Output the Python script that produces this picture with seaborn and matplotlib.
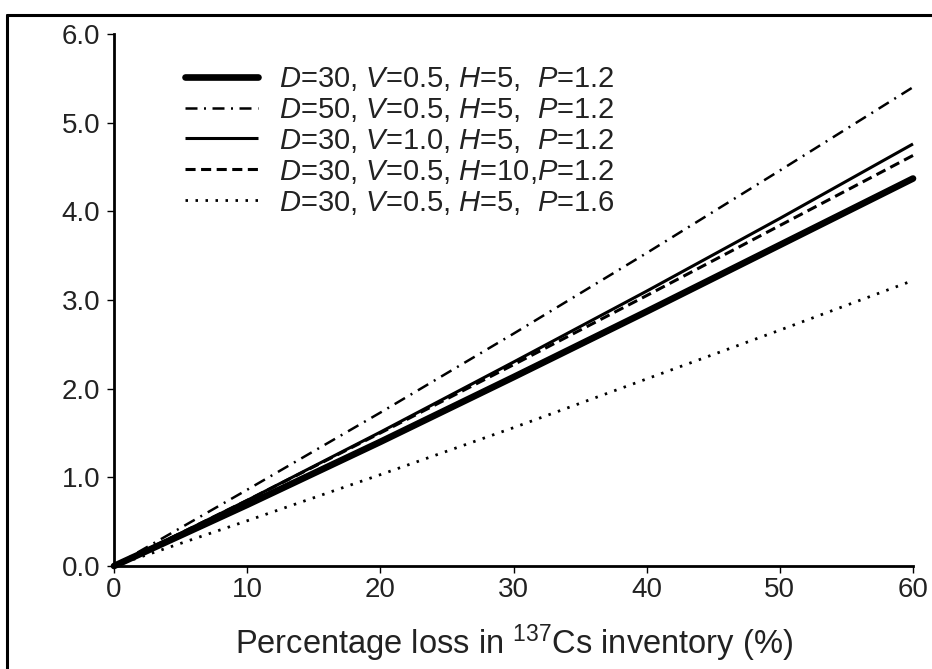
import numpy as np
import pandas as pd
import matplotlib
matplotlib.use("Agg")
import matplotlib.pyplot as plt
from matplotlib.lines import Line2D
import seaborn as sns

# Percentage loss in Cs-137 inventory (%)
loss_pct = [0, 10, 20, 30, 40, 50, 60]

# Estimated erosion rate for each parameter set
d30_v05_h5_p12 = [0.0, 0.69, 1.40, 2.13, 2.87, 3.62, 4.37]
d50_v05_h5_p12 = [0.0, 0.86, 1.73, 2.62, 3.53, 4.46, 5.40]
d30_v10_h5_p12 = [0.0, 0.74, 1.51, 2.30, 3.10, 3.92, 4.76]
d30_v05_h10_p12 = [0.0, 0.74, 1.50, 2.27, 3.05, 3.84, 4.63]
d30_v05_h5_p16 = [0.0, 0.51, 1.03, 1.56, 2.11, 2.66, 3.22]

labels = [
    r"$D$=30, $V$=0.5, $H$=5,  $P$=1.2",
    r"$D$=50, $V$=0.5, $H$=5,  $P$=1.2",
    r"$D$=30, $V$=1.0, $H$=5,  $P$=1.2",
    r"$D$=30, $V$=0.5, $H$=10,$P$=1.2",
    r"$D$=30, $V$=0.5, $H$=5,  $P$=1.6",
]
series = [d30_v05_h5_p12, d50_v05_h5_p12, d30_v10_h5_p12,
          d30_v05_h10_p12, d30_v05_h5_p16]

styles = [
    dict(lw=4.8, ls="-", cap="round"),
    dict(lw=1.8, ls=(0, (4.8, 2.6, 0.8, 2.6)), cap="butt"),
    dict(lw=2.2, ls="-", cap="butt"),
    dict(lw=2.2, ls=(0, (3.3, 1.8)), cap="butt"),
    dict(lw=2.0, ls=(0, (0.9, 2.7)), cap="butt"),
]

sns.set_theme(style="white")
plt.rcParams["font.family"] = ["Liberation Sans", "DejaVu Sans"]
plt.rcParams["mathtext.fontset"] = "custom"
plt.rcParams["mathtext.it"] = "Liberation Sans:italic"
plt.rcParams["mathtext.rm"] = "Liberation Sans"

fig = plt.figure(figsize=(9.32, 6.69), dpi=100)
ax = fig.add_axes([114 / 932, 1 - 566 / 669, (913 - 114) / 932, (566 - 34) / 669])

frames = []
for lab, vals in zip(labels, series):
    frames.append(pd.DataFrame({"loss": loss_pct, "rate": vals, "set": lab}))
df = pd.concat(frames, ignore_index=True)

for lab, st in zip(labels, styles):
    sub = df[df["set"] == lab]
    sns.lineplot(data=sub, x="loss", y="rate", ax=ax, color="black",
                 linewidth=st["lw"], linestyle=st["ls"], label=lab,
                 solid_capstyle=st["cap"], clip_on=False)

ax.set_xlim(0, 60)
ax.set_ylim(0, 6)
ax.set_xticks(range(0, 61, 10))
ax.set_yticks(np.arange(0, 6.01, 1.0))
ax.set_yticklabels([f"{v:.1f}" for v in np.arange(0, 6.01, 1.0)])
for side in ("top", "right"):
    ax.spines[side].set_visible(False)
for side in ("left", "bottom"):
    ax.spines[side].set_color("black")
    ax.spines[side].set_linewidth(2.0)
ax.tick_params(axis="both", which="major", direction="out", length=5,
               width=1.0, color="black", labelsize=20, labelcolor="#222222",
               left=True, bottom=True)
ax.tick_params(axis="x", pad=3)
ax.tick_params(axis="y", pad=5)
ax.set_xlabel(r"Percentage loss in $^{\mathregular{137}}$Cs inventory (%)",
              fontsize=23.5, color="#222222", labelpad=14)
ax.set_ylabel("")
ax.grid(False)

leg = ax.legend(loc="upper left", bbox_to_anchor=(0.089, 0.942), frameon=False,
                fontsize=21, handlelength=2.5, handletextpad=0.72,
                labelspacing=0.1, borderaxespad=0, borderpad=0)
for t in leg.get_texts():
    t.set_color("#222222")

# Outer frame along the top and left of the figure
fig.add_artist(Line2D([7 / 932, 1.0], [1 - 15 / 669, 1 - 15 / 669],
                      transform=fig.transFigure, color="black", lw=2.2))
fig.add_artist(Line2D([7 / 932, 7 / 932], [0.0, 1 - 15 / 669],
                      transform=fig.transFigure, color="black", lw=2.2))

fig.savefig("out.png", dpi=100)
